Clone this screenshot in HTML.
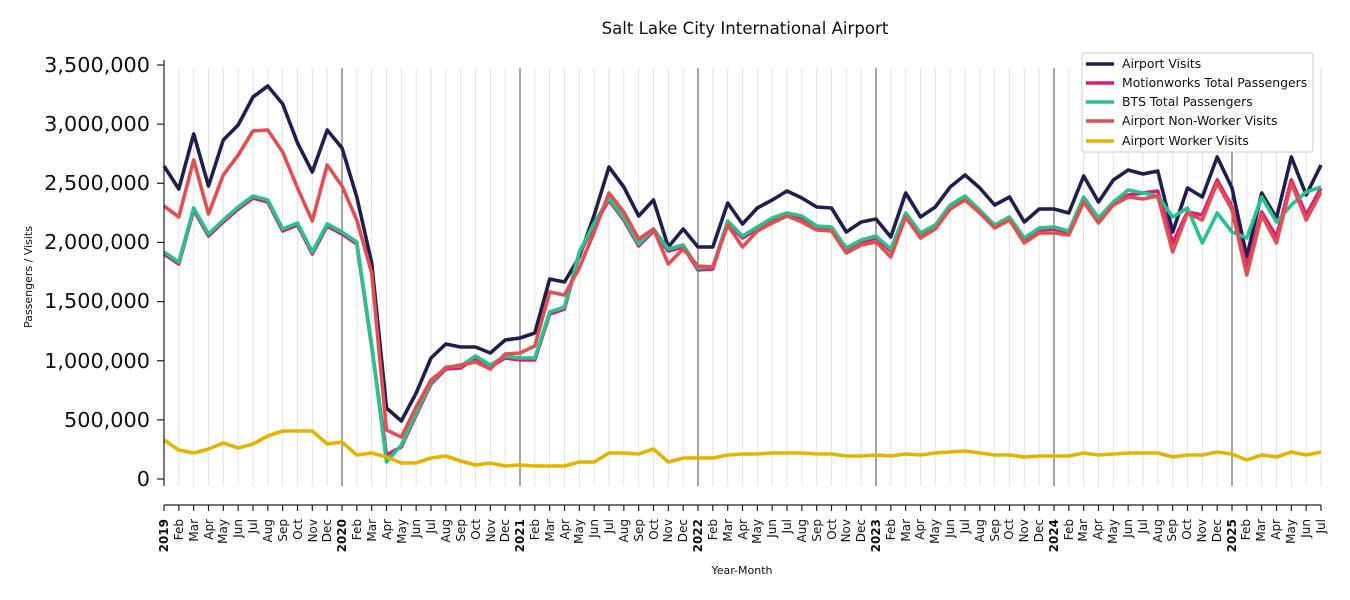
<!DOCTYPE html>
<html><head><meta charset="utf-8"><style>
body{margin:0;background:#fff}
svg{display:block;font-family:"DejaVu Sans","Liberation Sans",sans-serif}
</style></head><body>
<svg id="s" width="1350" height="600" viewBox="0 0 1350 600" xmlns="http://www.w3.org/2000/svg">
<rect width="1350" height="600" fill="#fff"/>
<g id="grid"></g>
<g id="lines" fill="none" stroke-width="3.6" stroke-linejoin="round"></g>
<text x="745" y="34" font-size="16.6" text-anchor="middle" fill="#111">Salt Lake City International Airport</text>
<line x1="164" y1="60" x2="164" y2="486" stroke="#222" stroke-width="1.2"/>
<line x1="164" y1="505" x2="1321" y2="505" stroke="#222" stroke-width="1.2"/>
<g font-size="20.8" text-anchor="end" fill="#111">
<text x="150" y="72">3,500,000</text>
<text x="150" y="131">3,000,000</text>
<text x="150" y="190">2,500,000</text>
<text x="150" y="249">2,000,000</text>
<text x="150" y="308">1,500,000</text>
<text x="150" y="368">1,000,000</text>
<text x="150" y="427">500,000</text>
<text x="150" y="486">0</text>
</g>
<g id="yt" stroke="#222" stroke-width="1.2"></g>
<text transform="translate(32,277) rotate(-90)" font-size="11" text-anchor="middle" fill="#111">Passengers / Visits</text>
<text x="742" y="574" font-size="11" text-anchor="middle" fill="#111">Year-Month</text>
<g>
<rect x="1082" y="53" width="231" height="99" fill="#fff" stroke="#ccc" stroke-width="1" rx="2"/>
<g stroke-width="3.6">
<line x1="1086" y1="64" x2="1114" y2="64" stroke="#1f1f4f"/>
<line x1="1086" y1="83" x2="1114" y2="83" stroke="#d81b7d"/>
<line x1="1086" y1="102" x2="1114" y2="102" stroke="#26c48c"/>
<line x1="1086" y1="121" x2="1114" y2="121" stroke="#e05050"/>
<line x1="1086" y1="141" x2="1114" y2="141" stroke="#e6b400"/>
</g>
<g font-size="12.4" fill="#111">
<text x="1122" y="68">Airport Visits</text>
<text x="1122" y="87">Motionworks Total Passengers</text>
<text x="1122" y="106">BTS Total Passengers</text>
<text x="1122" y="125">Airport Non-Worker Visits</text>
<text x="1122" y="145">Airport Worker Visits</text>
</g>
</g>
<g id="xlab" font-size="12" fill="#111" text-anchor="end">
<text transform="translate(168,519) rotate(-90)" font-weight="bold">2019</text>
<text transform="translate(183,519) rotate(-90)">Feb</text>
<text transform="translate(198,519) rotate(-90)">Mar</text>
<text transform="translate(213,519) rotate(-90)">Apr</text>
<text transform="translate(227,519) rotate(-90)">May</text>
<text transform="translate(242,519) rotate(-90)">Jun</text>
<text transform="translate(257,519) rotate(-90)">Jul</text>
<text transform="translate(272,519) rotate(-90)">Aug</text>
<text transform="translate(287,519) rotate(-90)">Sep</text>
<text transform="translate(302,519) rotate(-90)">Oct</text>
<text transform="translate(317,519) rotate(-90)">Nov</text>
<text transform="translate(331,519) rotate(-90)">Dec</text>
<text transform="translate(346,519) rotate(-90)" font-weight="bold">2020</text>
<text transform="translate(361,519) rotate(-90)">Feb</text>
<text transform="translate(376,519) rotate(-90)">Mar</text>
<text transform="translate(391,519) rotate(-90)">Apr</text>
<text transform="translate(406,519) rotate(-90)">May</text>
<text transform="translate(420,519) rotate(-90)">Jun</text>
<text transform="translate(435,519) rotate(-90)">Jul</text>
<text transform="translate(450,519) rotate(-90)">Aug</text>
<text transform="translate(465,519) rotate(-90)">Sep</text>
<text transform="translate(480,519) rotate(-90)">Oct</text>
<text transform="translate(495,519) rotate(-90)">Nov</text>
<text transform="translate(509,519) rotate(-90)">Dec</text>
<text transform="translate(524,519) rotate(-90)" font-weight="bold">2021</text>
<text transform="translate(539,519) rotate(-90)">Feb</text>
<text transform="translate(554,519) rotate(-90)">Mar</text>
<text transform="translate(569,519) rotate(-90)">Apr</text>
<text transform="translate(583,519) rotate(-90)">May</text>
<text transform="translate(598,519) rotate(-90)">Jun</text>
<text transform="translate(613,519) rotate(-90)">Jul</text>
<text transform="translate(628,519) rotate(-90)">Aug</text>
<text transform="translate(643,519) rotate(-90)">Sep</text>
<text transform="translate(658,519) rotate(-90)">Oct</text>
<text transform="translate(672,519) rotate(-90)">Nov</text>
<text transform="translate(687,519) rotate(-90)">Dec</text>
<text transform="translate(702,519) rotate(-90)" font-weight="bold">2022</text>
<text transform="translate(717,519) rotate(-90)">Feb</text>
<text transform="translate(732,519) rotate(-90)">Mar</text>
<text transform="translate(747,519) rotate(-90)">Apr</text>
<text transform="translate(761,519) rotate(-90)">May</text>
<text transform="translate(776,519) rotate(-90)">Jun</text>
<text transform="translate(791,519) rotate(-90)">Jul</text>
<text transform="translate(806,519) rotate(-90)">Aug</text>
<text transform="translate(821,519) rotate(-90)">Sep</text>
<text transform="translate(836,519) rotate(-90)">Oct</text>
<text transform="translate(850,519) rotate(-90)">Nov</text>
<text transform="translate(865,519) rotate(-90)">Dec</text>
<text transform="translate(880,519) rotate(-90)" font-weight="bold">2023</text>
<text transform="translate(895,519) rotate(-90)">Feb</text>
<text transform="translate(910,519) rotate(-90)">Mar</text>
<text transform="translate(924,519) rotate(-90)">Apr</text>
<text transform="translate(939,519) rotate(-90)">May</text>
<text transform="translate(954,519) rotate(-90)">Jun</text>
<text transform="translate(969,519) rotate(-90)">Jul</text>
<text transform="translate(984,519) rotate(-90)">Aug</text>
<text transform="translate(999,519) rotate(-90)">Sep</text>
<text transform="translate(1013,519) rotate(-90)">Oct</text>
<text transform="translate(1028,519) rotate(-90)">Nov</text>
<text transform="translate(1043,519) rotate(-90)">Dec</text>
<text transform="translate(1058,519) rotate(-90)" font-weight="bold">2024</text>
<text transform="translate(1073,519) rotate(-90)">Feb</text>
<text transform="translate(1087,519) rotate(-90)">Mar</text>
<text transform="translate(1102,519) rotate(-90)">Apr</text>
<text transform="translate(1117,519) rotate(-90)">May</text>
<text transform="translate(1132,519) rotate(-90)">Jun</text>
<text transform="translate(1147,519) rotate(-90)">Jul</text>
<text transform="translate(1162,519) rotate(-90)">Aug</text>
<text transform="translate(1176,519) rotate(-90)">Sep</text>
<text transform="translate(1191,519) rotate(-90)">Oct</text>
<text transform="translate(1206,519) rotate(-90)">Nov</text>
<text transform="translate(1221,519) rotate(-90)">Dec</text>
<text transform="translate(1236,519) rotate(-90)" font-weight="bold">2025</text>
<text transform="translate(1250,519) rotate(-90)">Feb</text>
<text transform="translate(1265,519) rotate(-90)">Mar</text>
<text transform="translate(1280,519) rotate(-90)">Apr</text>
<text transform="translate(1295,519) rotate(-90)">May</text>
<text transform="translate(1310,519) rotate(-90)">Jun</text>
<text transform="translate(1325,519) rotate(-90)">Jul</text>
</g>
</svg>
<script>
var NS="http://www.w3.org/2000/svg",X0=164,DX=1157/78;
function el(p,t,a){var e=document.createElementNS(NS,t);for(var k in a)e.setAttribute(k,a[k]);p.appendChild(e);return e;}
var g=document.getElementById('grid'),yt=document.getElementById('yt');
for(var i=0;i<79;i++){var x=X0+i*DX;
 if(i%12==0) el(g,'line',{x1:x,y1:68,x2:x,y2:486,stroke:'#222','stroke-width':0.8});
 else el(g,'line',{x1:x,y1:68,x2:x,y2:486,stroke:'#e2e2e2','stroke-width':1});
 el(yt,'line',{x1:x,y1:505,x2:x,y2:511});}
for(var j=0;j<8;j++){var y=479-j*59.14;el(yt,'line',{x1:157,y1:y,x2:164,y2:y});}
var navy=[166,189,134,186,140,125,97,86,104,143,172,130,
148,197,263,408,421,393,358,344,347,347,353,340,
338,333,279,282,257,215,167,187,216,200,247,229,
247,247,203,224,208,200,191,198,207,208,232,222,
219,237,193,217,207,187,175,188,205,197,222,209,
209,213,176,202,180,170,174,171,232,188,197,157,
188,257,193,218,157,195,165];
var red=[206,217,160,214,175,155,131,130,152,188,221,165,
186,220,273,430,437,407,380,368,365,362,369,354,
353,346,292,295,268,232,193,212,239,229,264,249,
266,267,225,247,231,223,216,222,230,231,253,245,
242,257,217,238,229,209,200,213,228,220,243,233,
233,235,202,223,205,197,199,196,252,213,220,183,
210,275,215,243,183,220,192];
var grn=[252,262,208,234,220,207,196,200,229,223,252,224,
232,242,345,462,445,413,382,367,366,356,365,356,
358,358,312,307,252,223,198,218,244,229,249,245,
268,267,221,236,227,218,213,216,226,227,248,240,
236,249,213,233,225,205,196,210,225,217,238,228,
227,231,197,218,202,190,193,196,217,208,243,213,
232,238,197,222,205,192,187];
var mag=grn.map(function(v,i){return v+2;});
mag[15]=455;
var magTail=[200,221,204,195,193,191,243,212,215,180,207,268,212,237,180,215,188];
for(var k=0;k<magTail.length;k++)mag[62+k]=magTail[k];
var yel=[440,450,453,449,443,448,444,436,431,431,431,444,
442,455,453,457,463,463,458,456,461,465,463,466,
465,466,466,466,462,462,453,453,454,449,462,458,
458,458,455,454,454,453,453,453,454,454,456,456,
455,456,454,455,453,452,451,453,455,455,457,456,
456,456,453,455,454,453,453,453,457,455,455,452,
454,460,455,457,452,455,452];
var L=document.getElementById('lines');
function pl(d,c){el(L,'polyline',{points:d.map(function(v,i){return (X0+i*DX).toFixed(1)+','+v;}).join(' '),stroke:c});}
pl(navy,'#1f1f4f');pl(mag,'#d81b7d');pl(grn,'#26c48c');pl(red,'#e05050');pl(yel,'#e6b400');
</script>
</body></html>
